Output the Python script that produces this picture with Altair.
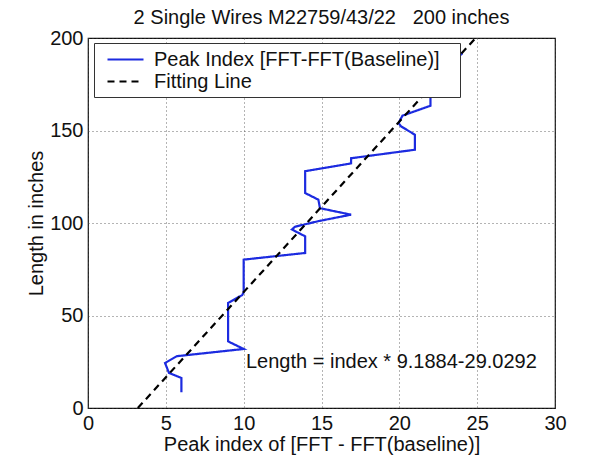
import altair as alt
import pandas as pd

# Peak index curve
peak_x = [6.0, 6.0, 5.2, 4.95, 5.7, 10.0, 9.0, 9.0, 9.9, 10.0, 10.0, 13.95, 13.95, 13.1, 13.3,
          14.8, 16.9, 14.9, 14.8, 13.95, 13.95, 16.9, 16.9, 21.0, 21.0, 20.1, 19.95, 20.2,
          22.0, 22.0, 22.0, 23.0, 23.3, 23.7, 24.05]
peak_y = [8.5, 16.2, 19.0, 24.3, 28.0, 31.9, 36.0, 56.8, 61.0, 62.5, 80.2, 83.8, 92.8, 96.5, 98.0,
          101.0, 104.5, 108.0, 112.6, 116.2, 128.0, 132.2, 135.0, 139.6, 147.7, 152.3, 154.0, 158.0,
          163.4, 168.5, 172.0, 180.0, 187.5, 189.3, 191.7]

# Fitting line endpoints
fit_x = [3.2, 24.9]
fit_y = [0.0, 200.0]

series_names = ["Peak Index [FFT-FFT(Baseline)]", "Fitting Line"]
series_colors = ["#1c2be0", "#000000"]
series_dash = [[1, 0], [7, 5]]

x_ticks = [0, 5, 10, 15, 20, 25, 30]
y_ticks = [0, 50, 100, 150, 200]

title_text = "2 Single Wires M22759/43/22\u00a0\u00a0\u00a0200 inches"
x_title = "Peak index of [FFT - FFT(baseline)]"
y_title = "Length in inches"
note_text = "Length = index * 9.1884-29.0292"
note_x = [10.15]
note_y = [25.0]

rows = []
for i, (a, b) in enumerate(zip(peak_x, peak_y)):
    rows.append({"x": a, "y": b, "series": series_names[0], "ord": i})
for i, (a, b) in enumerate(zip(fit_x, fit_y)):
    rows.append({"x": a, "y": b, "series": series_names[1], "ord": i})
df = pd.DataFrame(rows)

FONT = "Liberation Sans"
FS = 20

xs = alt.Scale(domain=[0, 30], nice=False)
ys = alt.Scale(domain=[0, 200], nice=False)

lines = alt.Chart(df).mark_line(strokeWidth=2.2).encode(
    x=alt.X("x:Q", scale=xs, axis=alt.Axis(values=x_ticks, title=x_title, grid=True,
                                            ticks=False, labelPadding=5, titlePadding=1,
                                            domain=False, labelFlush=False)),
    y=alt.Y("y:Q", scale=ys, axis=alt.Axis(values=y_ticks, title=y_title, grid=True,
                                            ticks=False, labelPadding=5, titlePadding=3,
                                            domain=False, labelFlush=False)),
    color=alt.Color("series:N", scale=alt.Scale(domain=series_names, range=series_colors),
                    legend=alt.Legend(title=None, orient="none", legendX=6, legendY=5,
                                      fillColor="white", strokeColor="#333333",
                                      padding=5, symbolType="M-0.3,0L3.3,0", symbolSize=400,
                                      symbolStrokeWidth=2.2, labelFontSize=FS, labelFont=FONT,
                                      labelColor="#111111", rowPadding=0, labelOffset=32,
                                      labelLimit=400,
                                      labelExpr="datum.label + '\u2800'")),
    strokeDash=alt.StrokeDash("series:N", scale=alt.Scale(domain=series_names, range=series_dash),
                              legend=None),
    order="ord:Q",
)

note_df = pd.DataFrame({"x": note_x, "y": note_y, "t": [note_text]})
note = alt.Chart(note_df).mark_text(align="left", baseline="middle", fontSize=FS,
                                    font=FONT, color="#111111").encode(
    x=alt.X("x:Q", scale=xs), y=alt.Y("y:Q", scale=ys), text="t:N")

chart = alt.layer(lines, note).properties(
    width=467, height=370,
    title=alt.TitleParams(title_text, fontSize=FS, font=FONT, fontWeight="normal",
                          color="#111111", offset=0),
    autosize=alt.AutoSizeParams(type="none"),
    padding={"left": 88, "top": 38, "right": 48, "bottom": 49},
    background="white",
).configure_view(stroke="#111111", strokeWidth=1.2).configure_axis(
    labelFont=FONT, labelFontSize=FS, labelColor="#111111",
    titleFont=FONT, titleFontSize=FS, titleFontWeight="normal", titleColor="#111111",
    gridColor="#444444", gridDash=[1, 3], gridWidth=1, gridOpacity=0.8,
)

chart.save("out.html", embed_options={"renderer": "svg", "actions": False})
